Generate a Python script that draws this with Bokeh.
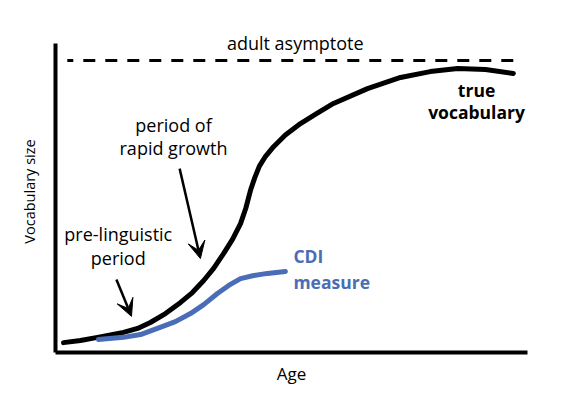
from bokeh.plotting import figure
from bokeh.models import Label, Arrow, VeeHead, FixedTicker
from bokeh.embed import file_html
from bokeh.resources import INLINE

# conceptual curves, arbitrary units (age 0-100, vocabulary 0-100)
true_age = [1.7, 5.3, 8.9, 14.4, 17.4, 20.1, 23.3, 26.5, 29.0, 31.4, 33.5, 35.6, 37.5,
            39.2, 40.3, 41.3, 42.2, 43.2, 44.5, 46.2, 48.7, 51.9, 55.3, 58.9, 66.1,
            73.1, 79.4, 85.2, 91.1, 97.0]
true_vocab = [3.2, 3.9, 4.9, 6.5, 7.8, 9.7, 12.6, 16.2, 19.4, 23.3, 27.2, 32.0, 36.6,
              41.7, 46.6, 52.4, 56.5, 60.3, 63.5, 66.6, 70.4, 74.1, 77.3, 80.6, 85.4,
              89.0, 90.9, 91.9, 91.6, 90.3]

cdi_age = [9.1, 14.4, 18.0, 21.6, 25.4, 28.6, 31.4, 34.3, 36.7, 39.2, 42.0, 44.9, 48.7]
cdi_vocab = [4.2, 4.9, 5.8, 7.8, 10.0, 12.6, 15.5, 19.1, 21.7, 23.9, 24.9, 25.6, 26.2]

asymptote_age = [2.5, 97.5]
asymptote_vocab = [94.5, 94.5]

FONT = "Open Sans"
BLUE = "#4a6db7"

p = figure(width=547, height=396, x_range=(0, 100), y_range=(0, 104.2),
           toolbar_location=None, output_backend="svg",
           min_border_left=55, min_border_right=20, min_border_top=30, min_border_bottom=44)
p.outline_line_color = None
p.grid.grid_line_color = None
p.background_fill_color = "white"
p.border_fill_color = "white"

for ax in [p.xaxis[0], p.yaxis[0]]:
    ax.ticker = FixedTicker(ticks=[])
    ax.bounds = (0, 100)
    ax.axis_line_width = 4
    ax.axis_line_color = "black"
    ax.major_tick_line_color = None
    ax.minor_tick_line_color = None
    ax.major_label_standoff = 0
    ax.axis_label_text_font = FONT
    ax.axis_label_text_font_style = "normal"
    ax.axis_label_text_color = "black"
p.xaxis.axis_label = "Age"
p.xaxis.axis_label_text_font_size = "17px"
p.xaxis.axis_label_standoff = 9
p.yaxis.axis_label = "Vocabulary size"
p.yaxis.axis_label_text_font_size = "14.5px"
p.yaxis.axis_label_standoff = 17

p.line(asymptote_age, asymptote_vocab, line_color="black", line_width=3,
       line_dash="12 10", line_dash_offset=6)
p.line(true_age, true_vocab, line_color="black", line_width=5,
       line_cap="round", line_join="round")
p.line(cdi_age, cdi_vocab, line_color=BLUE, line_width=5,
       line_cap="round", line_join="round")

for xs, ys, xe, ye in [(12.9, 23.6, 16.1, 11.7), (26.3, 59.5, 30.7, 30.4)]:
    p.add_layout(Arrow(x_start=xs, y_start=ys, x_end=xe, y_end=ye, line_width=2.5,
                       end=VeeHead(size=17, fill_color="black", line_color="black")))

labels = [
    (50.8, 100.0, "adult asymptote", "center", "normal", "black"),
    (25.0, 73.5, "period of", "center", "normal", "black"),
    (25.0, 66.3, "rapid growth", "center", "normal", "black"),
    (13.3, 38.5, "pre-linguistic", "center", "normal", "black"),
    (13.3, 30.7, "period", "center", "normal", "black"),
    (89.2, 85.1, "true", "center", "bold", "black"),
    (89.2, 77.7, "vocabulary", "center", "bold", "black"),
    (50.4, 31.1, "CDI", "left", "bold", BLUE),
    (50.4, 22.7, "measure", "left", "bold", BLUE),
]
for x, y, txt, align, style, col in labels:
    p.add_layout(Label(x=x, y=y, text=txt, text_align=align, text_baseline="middle",
                       text_font=FONT, text_font_style=style, text_color=col,
                       text_font_size="17.5px" if style == "bold" else "18px"))

open("out.html", "w").write(file_html(p, INLINE))
